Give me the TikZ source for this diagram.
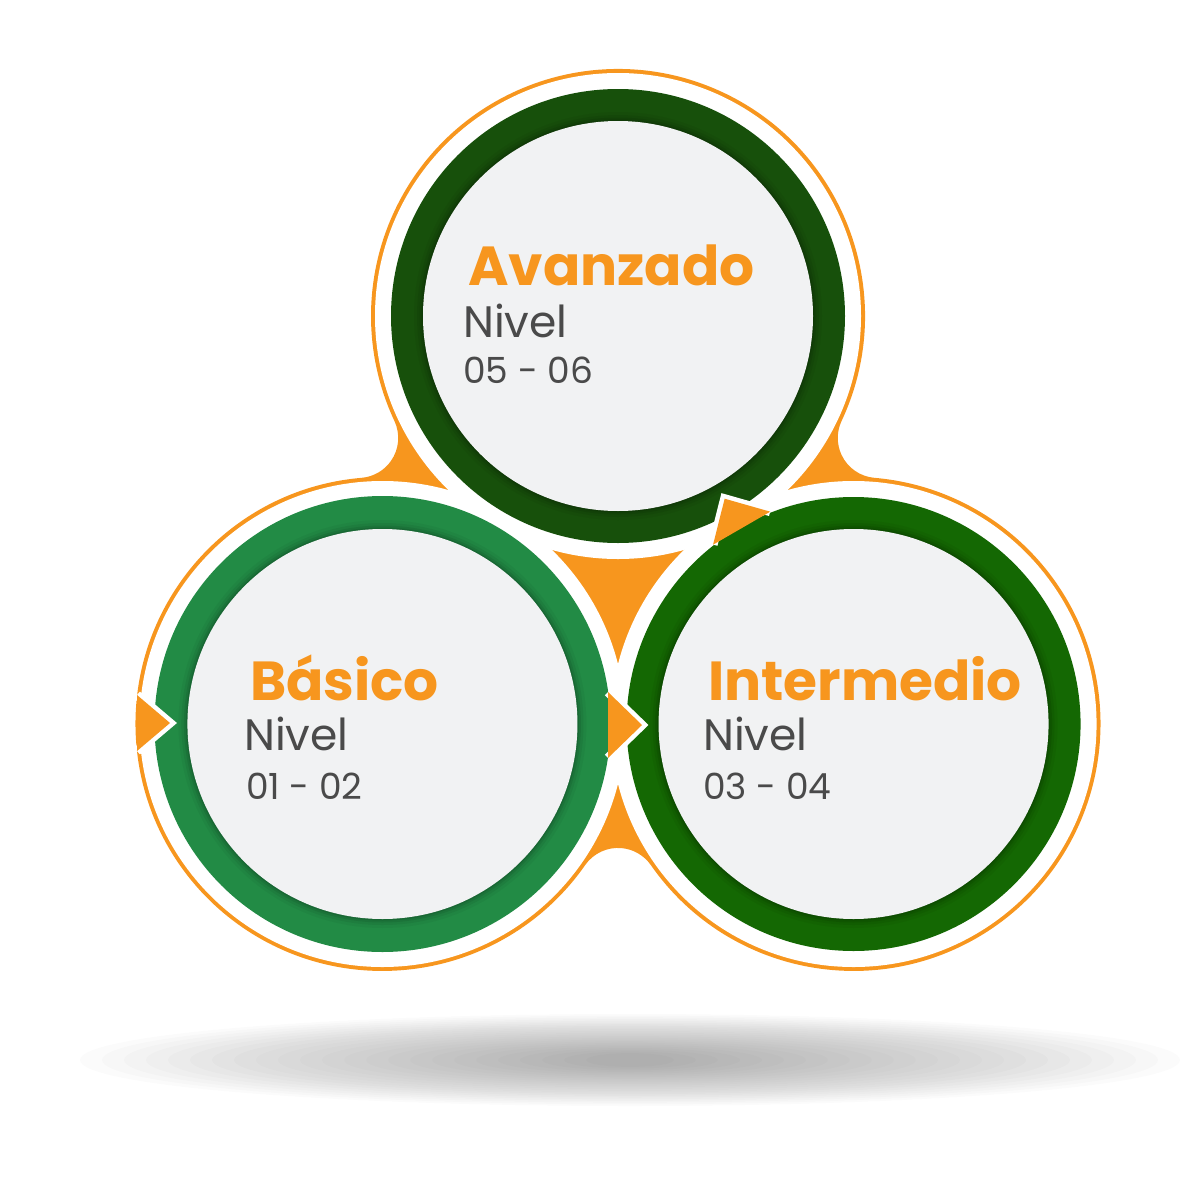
\documentclass[tikz,border=0pt]{standalone}
\usepackage{fontspec}
\setmainfont{Poppins}
\usetikzlibrary{calc}

\definecolor{naranja}{HTML}{F7961E}
\definecolor{verdeA}{HTML}{17500B}
\definecolor{verdeB}{HTML}{228B45}
\definecolor{verdeC}{HTML}{146803}
\definecolor{disco}{HTML}{F1F2F3}
\definecolor{gris}{HTML}{4A4A4A}

\begin{document}
\begin{tikzpicture}[x=1pt,y=1pt,
        % sombra del disco claro sobre el anillo verde
        discsombra/.style={%
            preaction={draw=black, line width=3pt, opacity=0.10,
            preaction={draw=black, line width=7pt, opacity=0.08,
            preaction={draw=black, line width=12pt, opacity=0.06,
            preaction={draw=black, line width=18pt, opacity=0.04,
        }}}}},
        bordeflecha/.style={draw=white, line width=9pt, line join=miter},
        titulo/.style={anchor=base west, inner sep=0pt, text=naranja,
            font=\fontsize{55}{58}\selectfont\bfseries},
        nivel/.style={anchor=base west, inner sep=0pt, text=gris,
            font=\fontsize{44}{48}\selectfont},
        rango/.style={anchor=base west, inner sep=0pt, text=gris,
            font=\fontsize{36}{40}\selectfont},
    ]
  \useasboundingbox (0,0) rectangle (1200,-1178);

  \coordinate (G) at (618,-588);
  \coordinate (A) at ($(G)+(90:272)$);
  \coordinate (B) at ($(G)+(210:272)$);
  \coordinate (C) at ($(G)+(330:272)$);

  % sombra en el piso
  \foreach \k in {0,...,23}
    \fill[black, opacity=0.014] (630,-1060)
      ellipse [x radius={550-22*\k}, y radius={46-1.7*\k}];

  % contorno naranja con uniones redondeadas
  \fill[naranja]
    ($(A)+(-25.15:247)$)
    arc[start angle=-25.15,end angle=205.15,radius=247]
    arc[start angle=25.15,end angle=-85.15,radius=40]
    arc[start angle=94.85,end angle=325.15,radius=247]
    arc[start angle=145.15,end angle=34.85,radius=40]
    arc[start angle=214.85,end angle=445.15,radius=247]
    arc[start angle=265.15,end angle=154.85,radius=40]
    -- cycle;
  \foreach \c in {A,B,C}
    \fill[white] (\c) circle[radius=243];

  % anillos
  \fill[verdeA] (A) circle[radius=227];
  \fill[verdeB] (B) circle[radius=228];
  \fill[verdeC] (C) circle[radius=227];
  \foreach \c in {A,B,C}
    \fill[disco, discsombra] (\c) circle[radius=195];

  % flechas
  \draw[bordeflecha] (137,-695) -- (170,-723) -- (137,-751);
  \fill[naranja] (137,-695) -- (170,-723) -- (137,-751) -- cycle;
  \foreach \giro in {0,120}{
    \begin{scope}[rotate around={\giro:(G)}]
      \draw[bordeflecha] (608,-692) -- (642,-725) -- (608,-758);
      \fill[naranja] (608,-692) -- (642,-725) -- (608,-758) -- cycle;
    \end{scope}
  }

  % textos
  \node[titulo] (avanzado) at (468,-285) {Avanzado};
  \node[nivel] (nivelA) at (463,-337) {Nivel};
  \node[rango] (rangoA) at (463,-383) {05 - 06};

  \node[titulo] (basico) at (250,-700) {Básico};
  \node[nivel] (nivelB) at (244,-750) {Nivel};
  \node[rango] (rangoB) at (246,-799) {01 - 02};

  \node[titulo] (intermedio) at (708,-700) {Intermedio};
  \node[nivel] (nivelC) at (703,-750) {Nivel};
  \node[rango] (rangoC) at (703,-799) {03 - 04};
\end{tikzpicture}
\end{document}
